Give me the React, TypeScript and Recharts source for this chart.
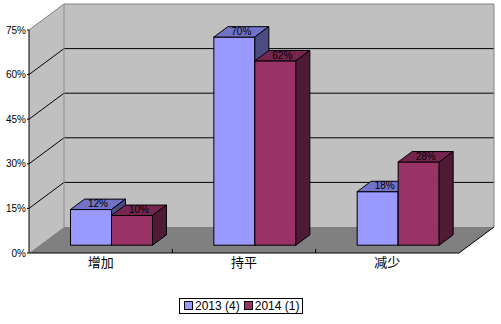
import { BarChart, Bar, XAxis, YAxis, Legend, LabelList } from 'recharts';

// values (percent)
const CATEGORIES = ['增加', '持平', '减少'];
const SERIES_2013 = [12, 70, 18];
const SERIES_2014 = [10, 62, 28];
const SERIES_NAMES = ['2013 (4)', '2014 (1)'];
const Y_TICKS = [0, 15, 30, 45, 60, 75];

const data = CATEGORIES.map((cat, i) => ({
  cat,
  a: SERIES_2013[i],
  b: SERIES_2014[i],
}));

// layout of the fake 3D box
const W = 501;
const H = 324;
const PLOT = { left: 29, top: 30, right: 459, bottom: 253 };
const DEPTH = { x: 35, y: -26 };
const BAR_SHIFT = { x: DEPTH.x * 0.3, y: DEPTH.y * 0.3 };
const BAR_DEPTH = { x: DEPTH.x * 0.4, y: DEPTH.y * 0.4 };
const Y_MAX = 75;

const COLORS = {
  a: { front: '#9999FF', top: '#7272C6', side: '#4C4C82' },
  b: { front: '#993366', top: '#74264E', side: '#4F1A35' },
};

const FONT = '"Liberation Sans", Arial, sans-serif';
const CJK = '"Noto Sans CJK SC", sans-serif';

const gy = (v: number) => PLOT.bottom - (v / Y_MAX) * (PLOT.bottom - PLOT.top);

function Box() {
  const { left: L, right: R, top: T, bottom: B } = PLOT;
  const dx = DEPTH.x;
  const dy = DEPTH.y;
  const band = (R - L) / CATEGORIES.length;
  const inner = Y_TICKS.filter((v) => v > 0 && v < Y_MAX);
  return (
    <svg width={W} height={H} style={{ position: 'absolute', left: 0, top: 0 }}>
      <polygon
        points={`${L},${T} ${L + dx},${T + dy} ${L + dx},${B + dy} ${L},${B}`}
        fill="#C0C0C0"
      />
      <rect x={L + dx} y={T + dy} width={R - L} height={B - T} fill="#C0C0C0" />
      <polygon
        points={`${L},${B} ${R},${B} ${R + dx},${B + dy} ${L + dx},${B + dy}`}
        fill="#808080"
      />
      {inner.map((v) => (
        <g key={v}>
          <line x1={L + dx} x2={R + dx} y1={gy(v) + dy} y2={gy(v) + dy} stroke="#000" />
          <line x1={L} x2={L + dx} y1={gy(v)} y2={gy(v) + dy} stroke="#000" />
        </g>
      ))}
      <polyline
        points={`${L},${T} ${L + dx},${T + dy} ${R + dx},${T + dy} ${R + dx},${B + dy}`}
        fill="none"
        stroke="#808080"
      />
      <line x1={L + dx} x2={L + dx} y1={T + dy} y2={B + dy} stroke="#8c8c8c" />
      <line x1={R} y1={B} x2={R + dx} y2={B + dy} stroke="#000" />
      {[1, 2].map((k) => (
        <line key={k} x1={L + k * band} x2={L + k * band} y1={B - 4} y2={B} stroke="#000" />
      ))}
    </svg>
  );
}

const prism = (c: { front: string; top: string; side: string }) => (props: any) => {
  const { x, y, width: w, height: h } = props;
  if (w == null || h == null) return <g />;
  const x0 = x + BAR_SHIFT.x;
  const y0 = y + BAR_SHIFT.y;
  const bx = BAR_DEPTH.x;
  const by = BAR_DEPTH.y;
  return (
    <g stroke="#000" strokeWidth={1}>
      <rect x={x0} y={y0} width={w} height={h} fill={c.front} />
      <polygon
        points={`${x0},${y0} ${x0 + w},${y0} ${x0 + w + bx},${y0 + by} ${x0 + bx},${y0 + by}`}
        fill={c.top}
      />
      <polygon
        points={`${x0 + w},${y0} ${x0 + w + bx},${y0 + by} ${x0 + w + bx},${y0 + h + by} ${x0 + w},${y0 + h}`}
        fill={c.side}
      />
    </g>
  );
};

const renderLabel = (p: any) => {
  const vb = p.viewBox ?? p;
  const x = vb.x ?? p.x;
  const y = vb.y ?? p.y;
  const w = vb.width ?? p.width;
  const cx = x + BAR_SHIFT.x + w / 2 + BAR_DEPTH.x / 2;
  const cy = y + BAR_SHIFT.y + BAR_DEPTH.y / 2;
  return (
    <text x={cx} y={cy + 3} textAnchor="middle" fontSize={10} fontFamily={FONT} fill="#000">
      {`${p.value}%`}
    </text>
  );
};

const renderLegend = () => (
  <div
    style={{
      border: '1px solid #000',
      height: 16,
      display: 'inline-flex',
      alignItems: 'center',
      padding: '0 3px 0 4px',
      fontFamily: FONT,
      fontSize: 12,
      color: '#000',
      background: '#fff',
      whiteSpace: 'nowrap',
      boxSizing: 'border-box',
    }}
  >
    {SERIES_NAMES.map((name, i) => (
      <span key={name} style={{ display: 'flex', alignItems: 'center', marginRight: i === 0 ? 4 : 0 }}>
        <span
          style={{
            width: 7,
            height: 7,
            border: '1px solid #000',
            background: i === 0 ? COLORS.a.front : COLORS.b.front,
            marginRight: 2,
            flexShrink: 0,
          }}
        />
        {name}
      </span>
    ))}
  </div>
);

export default function App() {
  return (
    <div style={{ position: 'absolute', left: 0, top: 0, width: W, height: H, background: '#fff' }}>
      <Box />
      <div style={{ position: 'absolute', left: 0, top: 0 }}>
        <BarChart
          width={W}
          height={H}
          data={data}
          margin={{ top: PLOT.top, right: W - PLOT.right, left: 0, bottom: 10 }}
          barSize={41}
          barGap={0}
          style={{ fontFamily: FONT }}
        >
          <XAxis
            dataKey="cat"
            height={43}
            axisLine={{ stroke: '#000' }}
            tickLine={false}
            tickSize={0}
            tickMargin={5}
            interval={0}
            tick={{ fill: '#000', fontSize: 13, fontFamily: CJK }}
          />
          <YAxis
            width={PLOT.left}
            domain={[0, Y_MAX]}
            ticks={Y_TICKS}
            interval={0}
            axisLine={{ stroke: '#000' }}
            tickLine={{ stroke: '#000' }}
            tickSize={2}
            tickMargin={1}
            tickFormatter={(v) => `${v}%`}
            tick={{ fill: '#000', fontSize: 10, fontFamily: FONT }}
          />
          <Legend
            verticalAlign="bottom"
            content={renderLegend}
            wrapperStyle={{ left: 179, width: 130, height: 18 }}
          />
          <Bar dataKey="a" name={SERIES_NAMES[0]} shape={prism(COLORS.a)} isAnimationActive={false}>
            <LabelList dataKey="a" content={renderLabel} />
          </Bar>
          <Bar dataKey="b" name={SERIES_NAMES[1]} shape={prism(COLORS.b)} isAnimationActive={false}>
            <LabelList dataKey="b" content={renderLabel} />
          </Bar>
        </BarChart>
      </div>
    </div>
  );
}
